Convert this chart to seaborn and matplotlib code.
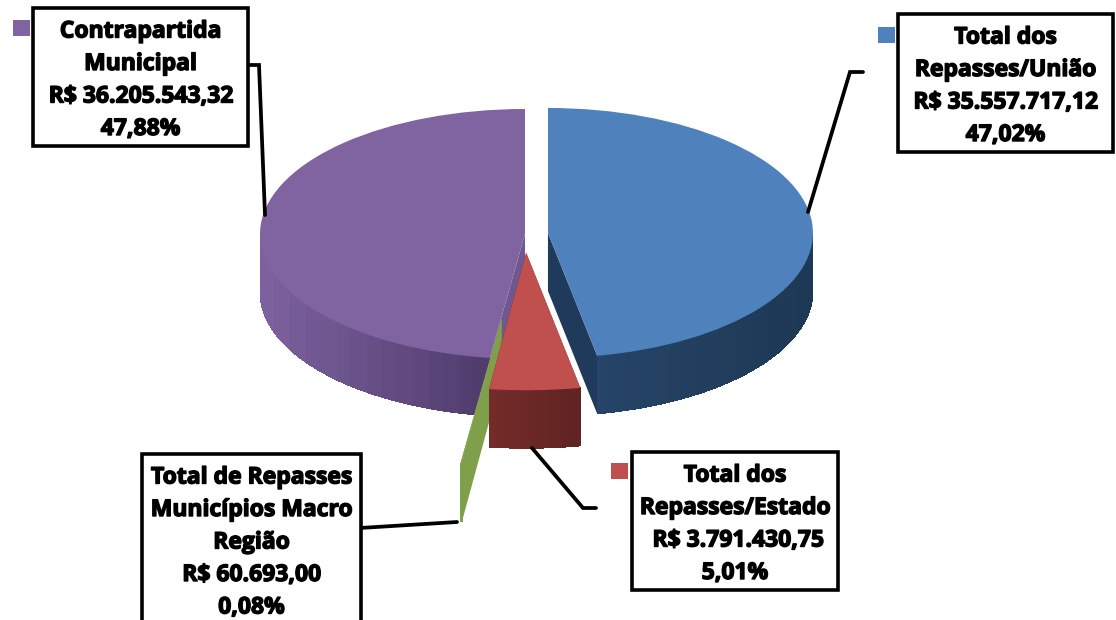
import numpy as np
import matplotlib
matplotlib.use("Agg")
import matplotlib.pyplot as plt
import matplotlib.patheffects as pe
from matplotlib.patches import Rectangle
import seaborn as sns

names = ["Total dos\nRepasses/União", "Total dos\nRepasses/Estado",
         "Total de Repasses\nMunicípios Macro\nRegião", "Contrapartida\nMunicipal"]
amounts = ["R$ 35.557.717,12", " R$ 3.791.430,75", "R$ 60.693,00", "R$ 36.205.543,32"]
percents = ["47,02%", "5,01%", "0,08%", "47,88%"]
shares = [47.02, 5.01, 0.08, 47.88]

top_colors = ["#4f81bd", "#c0504d", "#86a64e", "#8064a2"]
wall_left = ["#264467", "#732c2a", "#86a64e", "#7c619e"]
wall_right = ["#1d3855", "#5e2322", "#7f9f4a", "#4d3a69"]
cut_colors = ["#1f3a5a", "#5e2322", "#7f9f4a", "#6f5790"]
explode = [0.087, 0.15, 0.68, 0.0]
radii = [1.0, 1.1, 1.17, 1.0]
paint_order = [1, 3, 2, 0]
depth = 0.464

W, H = 1116, 620
CX, CY, RX, RY = 525, 234, 265, 125

sns.set_theme(style="white")
plt.rcParams["font.family"] = ["Open Sans", "DejaVu Sans"]

fig = plt.figure(figsize=(W / 100, H / 100), dpi=100, facecolor="white")
ax = fig.add_axes([0, 0, 1, 1])
wedges, _ = ax.pie(shares, explode=explode, colors=top_colors, startangle=90,
                   counterclock=False, wedgeprops={"linewidth": 0})
ax.set_aspect("auto")
ax.set_xlim(-CX / RX, (W - CX) / RX)
ax.set_ylim((CY - H) / RY, CY / RY)
ax.axis("off")

for i, w in enumerate(wedges):
    w.set_radius(radii[i])
    z = 10 * paint_order[i]
    w.set_zorder(z + 5)
    c = np.array(w.center)
    r = w.r
    # cut faces of the slice
    for th in (w.theta1, w.theta2):
        o = c + r * np.array([np.cos(np.radians(th)), np.sin(np.radians(th))])
        ax.fill([c[0], o[0], o[0], c[0]],
                [c[1], o[1], o[1] - depth, c[1] - depth],
                color=cut_colors[i], lw=0, zorder=z + 1)
    # rounded outer wall, shaded by angle
    th = np.linspace(w.theta1, w.theta2, 181)
    th = th[np.sin(np.radians(th)) <= 0]
    if len(th) > 1:
        shades = sns.blend_palette([wall_left[i], wall_right[i]], 16)
        xs = c[0] + r * np.cos(np.radians(th))
        ys = c[1] + r * np.sin(np.radians(th))
        span = max(xs.max() - xs.min(), 1e-6)
        # solid base, so that the shaded bands show no seams
        ax.fill(np.r_[xs, xs[::-1]], np.r_[ys, ys[::-1] - depth],
                color=shades[8], lw=0, zorder=z + 2)
        for k in range(len(th) - 1):
            t = (0.5 * (xs[k] + xs[k + 1]) - xs.min()) / span
            ax.fill([xs[k], xs[k + 1], xs[k + 1], xs[k]],
                    [ys[k], ys[k + 1], ys[k + 1] - depth, ys[k] - depth],
                    color=shades[int(t * 15)], lw=0, antialiased=False, zorder=z + 3)

# overlay in image pixels for the callouts
ov = fig.add_axes([0, 0, 1, 1], facecolor="none")
ov.set_xlim(0, W)
ov.set_ylim(H, 0)
ov.axis("off")

leaders = [
    ([808, 850, 863], [212, 72, 72]),
    ([532, 583, 596], [448, 508, 508]),
    ([360, 457], [528, 522]),
    ([248, 259, 265], [65, 65, 215]),
]
for lx, ly in leaders:
    ov.plot(lx, ly, color="black", lw=2.7, solid_joinstyle="miter", zorder=2)

boxes = [(898, 14, 215, 138), (632, 452, 206, 138), (142, 454, 219, 190), (33, 8, 215, 138)]
squares = [(878, 27), (611, 463), None, (13, 20)]
line_gap = 32.5
for i, (x, y, w, h) in enumerate(boxes):
    ov.add_patch(Rectangle((x, y), w, h, fc="white", ec="black", lw=2.6, zorder=3))
    if squares[i] is not None:
        ov.add_patch(Rectangle(squares[i], 17, 16, fc=top_colors[i], lw=0, zorder=2))
    lines = names[i].split("\n") + [amounts[i], percents[i]]
    for j, line in enumerate(lines):
        ov.text(x + w / 2, y + 23.5 + j * line_gap, line, ha="center", va="center",
                fontsize=16.5, fontweight="bold", color="black", zorder=4,
                path_effects=[pe.withStroke(linewidth=1.0, foreground="black")])

fig.savefig("out.png", dpi=100, facecolor="white")
